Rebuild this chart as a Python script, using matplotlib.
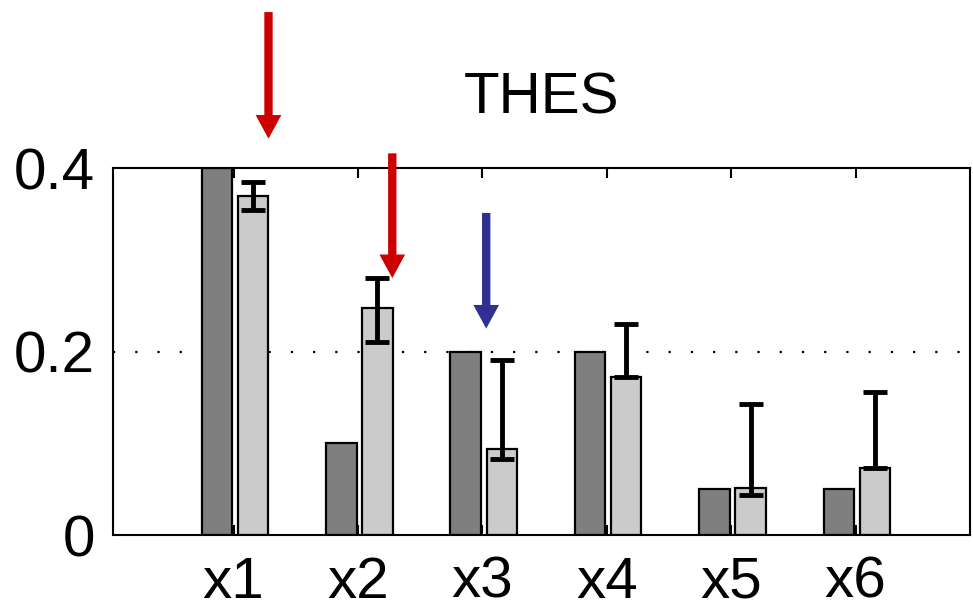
import numpy as np
import matplotlib.pyplot as plt

plt.rcParams['font.family'] = ['Liberation Sans', 'DejaVu Sans']

labels = ['x1', 'x2', 'x3', 'x4', 'x5', 'x6']
dark = [0.40, 0.10, 0.20, 0.20, 0.05, 0.05]
light = [0.369, 0.247, 0.094, 0.172, 0.051, 0.073]
err_low = [0.015, 0.037, 0.011, 0.0, 0.007, 0.0]
err_high = [0.016, 0.033, 0.097, 0.058, 0.092, 0.083]
threshold = 0.2

# annotation arrows: x, tail y, tip y, colour
arrow_x = [1.28, 2.275, 3.03]
arrow_tail = [0.570, 0.416, 0.351]
arrow_tip = [0.432, 0.280, 0.225]
arrow_col = ['#cc0000', '#cc0000', '#2e3192']

fig = plt.figure(figsize=(9.73, 6.09), dpi=100)
ax = fig.add_axes([0.1161, 0.1215, 0.881, 0.6026])

x = np.arange(1, len(labels) + 1)
w = 0.245
ax.bar(x - 0.135, dark, w, color='#7f7f7f', edgecolor='black', linewidth=1.6, zorder=2)
ax.bar(x + 0.155, light, w, color='#cbcbcb', edgecolor='black', linewidth=1.6, zorder=2)
ax.errorbar(x + 0.155, light, yerr=[err_low, err_high], fmt='none', ecolor='black',
            elinewidth=3.5, capsize=8.5, capthick=3.5, zorder=3)

ax.axhline(threshold, color='black', linewidth=1.6, dashes=(1, 9), zorder=1)

ax.set_xlim(0.03, 6.92)
ax.set_ylim(0, 0.4)
ax.set_xticks(x)
ax.set_xticklabels(labels)
ax.set_yticks([0, 0.2, 0.4])
ax.set_yticklabels(['0', '0.2', '0.4'])
ax.tick_params(axis='x', direction='in', top=True, length=7, width=1.5, pad=15, labelsize=42)
ax.tick_params(axis='y', direction='in', length=0, pad=13, labelsize=42)
for s in ax.spines.values():
    s.set_linewidth(1.5)
ax.set_title('THES', fontsize=42, pad=39)

for xa, t0, t1, c in zip(arrow_x, arrow_tail, arrow_tip, arrow_col):
    ax.annotate('', xy=(xa, t1), xytext=(xa, t0), annotation_clip=False,
                arrowprops=dict(arrowstyle='simple,head_length=1.7,head_width=1.85,tail_width=0.6',
                                mutation_scale=10, color=c, linewidth=0,
                                shrinkA=0, shrinkB=0))

fig.savefig('out.png', dpi=100)
